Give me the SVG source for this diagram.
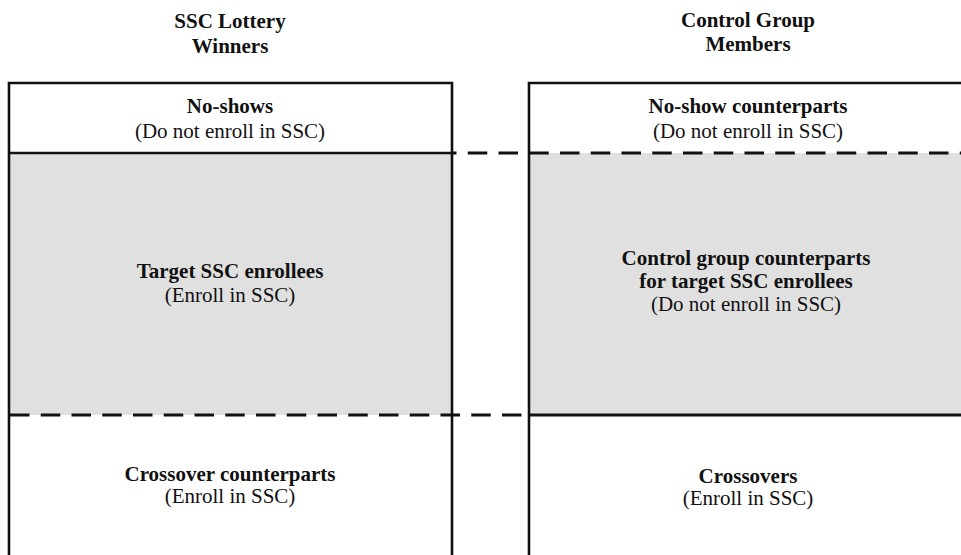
<svg xmlns="http://www.w3.org/2000/svg" width="961" height="555" viewBox="0 0 961 555">
<style>
.b{font-family:"Liberation Serif","Times New Roman",serif;font-size:21px;font-weight:bold;fill:#111;text-anchor:middle}
.r{font-family:"Liberation Serif","Times New Roman",serif;font-size:21px;fill:#111;text-anchor:middle}
.solid{stroke:#111;stroke-width:2.6;fill:none}
.dash{stroke:#111;stroke-width:3;fill:none;stroke-dasharray:19.5 11.25}
.gray{fill:#e0e0e0}
</style>
<rect width="961" height="555" fill="#fff"/>
<g id="header-left">
<text class="b" x="230" y="28">SSC Lottery</text>
<text class="b" x="230" y="53">Winners</text>
</g>
<g id="header-right">
<text class="b" x="748" y="27">Control Group</text>
<text class="b" x="748" y="51">Members</text>
</g>
<g id="left-noshows">
<text class="b" x="230" y="113">No-shows</text>
<text class="r" x="230" y="138">(Do not enroll in SSC)</text>
</g>
<g id="left-target">
<rect class="gray" x="9" y="153" width="443" height="262"/>
<text class="b" x="230" y="278">Target SSC enrollees</text>
<text class="r" x="230" y="302">(Enroll in SSC)</text>
</g>
<g id="left-crossover">
<text class="b" x="230" y="481">Crossover counterparts</text>
<text class="r" x="230" y="503">(Enroll in SSC)</text>
</g>
<g id="right-noshow">
<text class="b" x="748" y="113">No-show counterparts</text>
<text class="r" x="748" y="138">(Do not enroll in SSC)</text>
</g>
<g id="right-control">
<rect class="gray" x="529" y="153" width="432" height="262"/>
<text class="b" x="746" y="265">Control group counterparts</text>
<text class="b" x="746" y="288">for target SSC enrollees</text>
<text class="r" x="746" y="311">(Do not enroll in SSC)</text>
</g>
<g id="right-crossovers">
<text class="b" x="748" y="483">Crossovers</text>
<text class="r" x="748" y="505">(Enroll in SSC)</text>
</g>
<g id="connectors">
<path class="solid" d="M9,560 V83 H452 V560"/>
<path class="solid" d="M529,560 V83 H965"/>
<line class="solid" x1="9" y1="153" x2="452" y2="153"/>
<line class="dash" x1="452" y1="153" x2="965" y2="153" style="stroke-dashoffset:15"/>
<line class="dash" x1="9" y1="415" x2="529" y2="415" style="stroke-dashoffset:-1"/>
<line class="solid" x1="529" y1="415" x2="965" y2="415" style="stroke-width:3"/>
</g>
</svg>
